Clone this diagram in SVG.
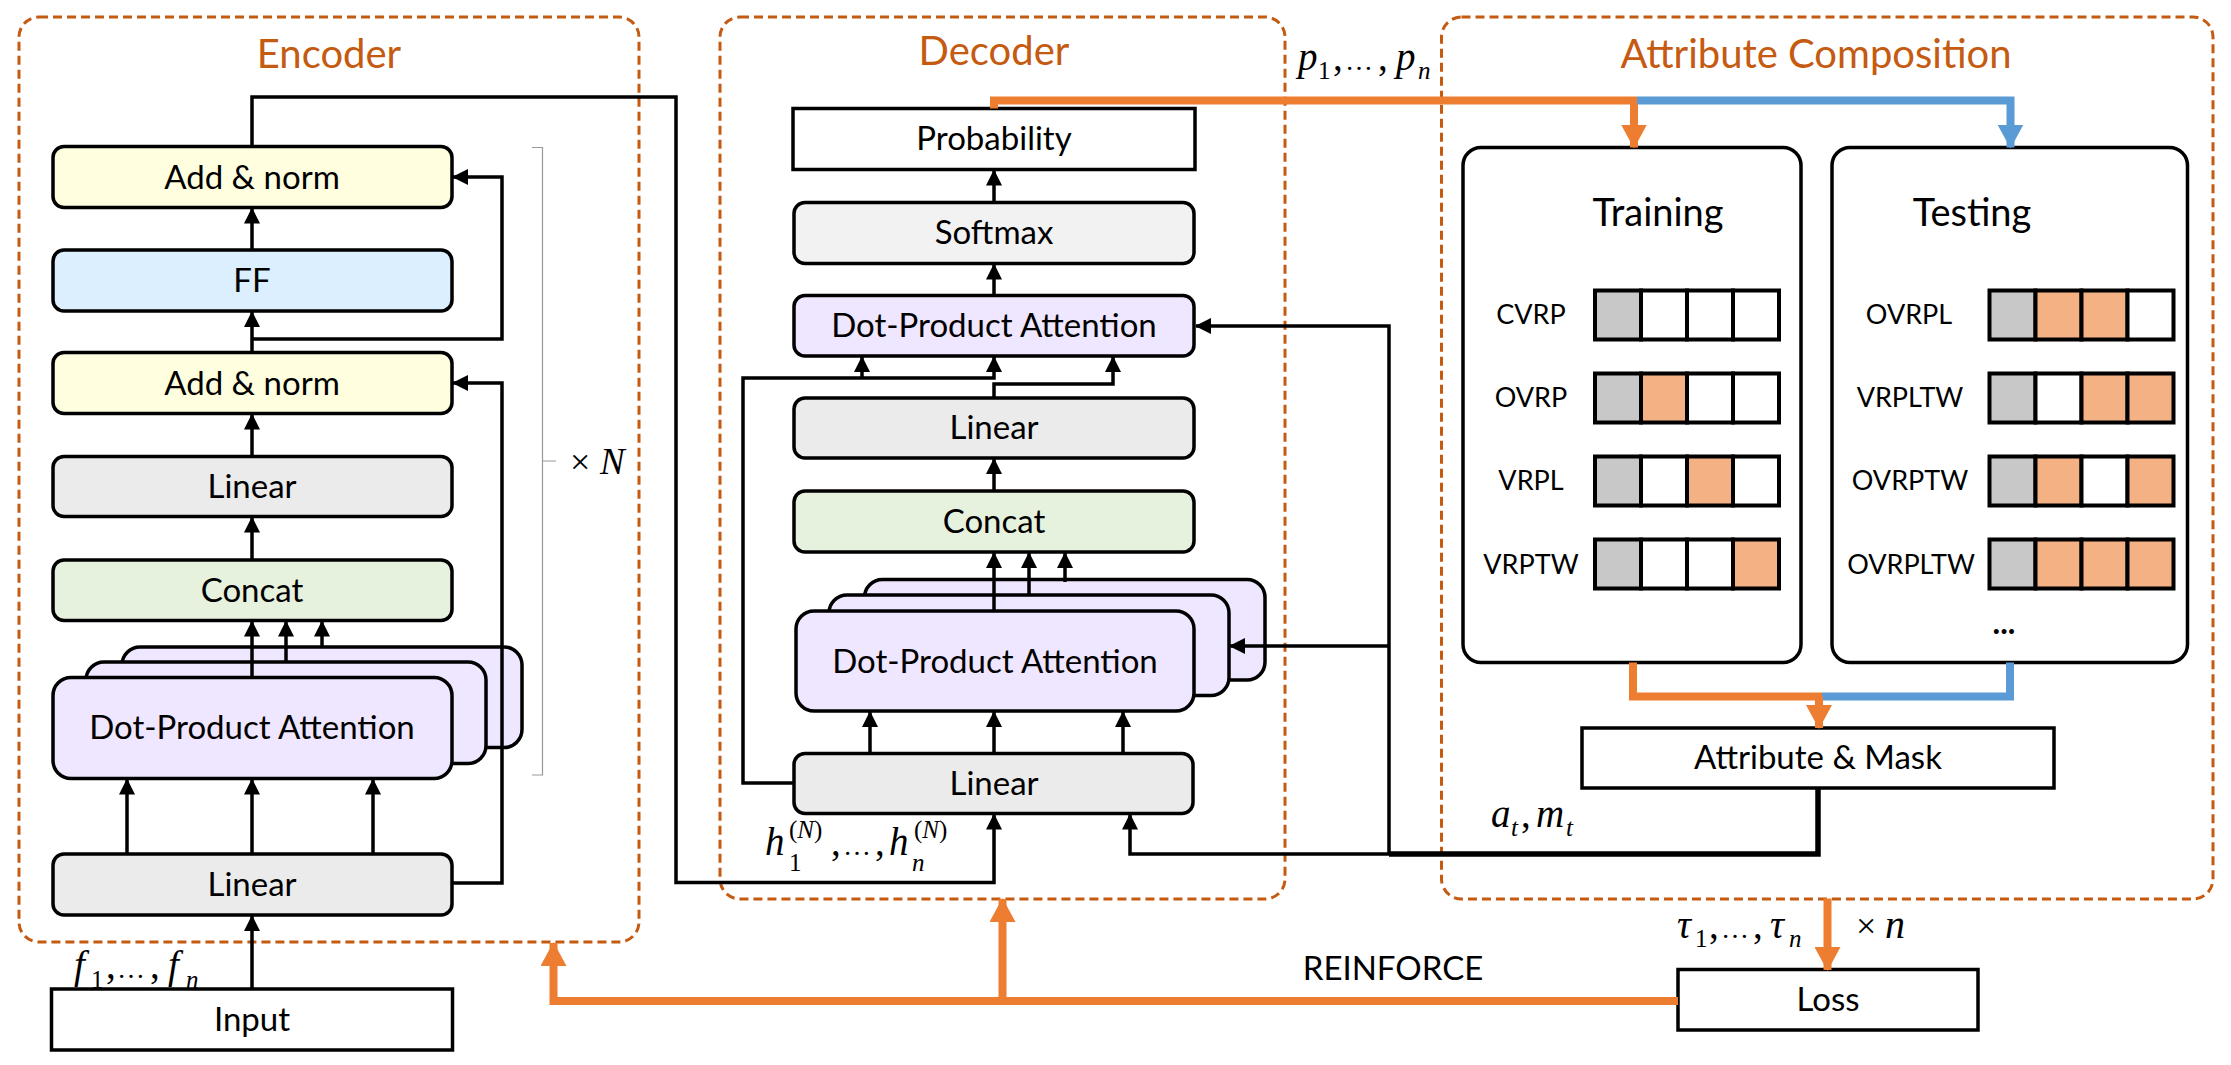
<svg xmlns="http://www.w3.org/2000/svg" width="2231" height="1065" viewBox="0 0 2231 1065">
<style>
.grp{fill:none;stroke:#C55A11;stroke-width:3;stroke-dasharray:9 5}
.ttl{font-family:Lato,"Open Sans",sans-serif;font-size:40px;fill:#C55A11;text-anchor:middle}
.box{stroke:#000;stroke-width:3.5}
.lbl{font-family:Lato,"Open Sans",sans-serif;font-size:33px;fill:#000;text-anchor:middle}
.sm{font-family:Lato,"Open Sans",sans-serif;font-size:27px;fill:#000;text-anchor:middle}
.big{font-family:Lato,"Open Sans",sans-serif;font-size:38px;fill:#000;text-anchor:middle}
.m{font-family:"Liberation Serif","Times New Roman",serif;font-style:italic;font-size:39px;fill:#000}
.u{font-family:"Liberation Serif","Times New Roman",serif;font-size:39px;fill:#000}
.ms{font-family:"Liberation Serif","Times New Roman",serif;font-style:italic;font-size:25px;fill:#000}
.us{font-family:"Liberation Serif","Times New Roman",serif;font-size:25px;fill:#000}
.el{font-family:"Liberation Serif","Times New Roman",serif;font-size:28px;fill:#000}
.yel{fill:#FFFFDF}.blu{fill:#DCEFFF}.gry{fill:#EBEBEB}.grn{fill:#E6F2DE}.pur{fill:#EFE6FF}.sgr{fill:#F2F2F2}.wht{fill:#FFFFFF}
.ln{fill:none;stroke:#000;stroke-width:3.5}
.arr{marker-end:url(#ah)}
.or{fill:none;stroke:#ED7D31;stroke-width:8}
.bl{fill:none;stroke:#5B9BD5;stroke-width:8}
.cg{fill:#C8C8C8;stroke:#000;stroke-width:4}
.co{fill:#F4B183;stroke:#000;stroke-width:4}
.cw{fill:#FFFFFF;stroke:#000;stroke-width:4}
</style>
<defs>
<marker id="ah" viewBox="0 0 16 16" refX="15" refY="8" markerWidth="16" markerHeight="16" markerUnits="userSpaceOnUse" orient="auto"><path d="M0,0 L16,8 L0,16 z" fill="#000"/></marker>
<marker id="ao" viewBox="0 0 24 26" refX="23" refY="13" markerWidth="24" markerHeight="26" markerUnits="userSpaceOnUse" orient="auto"><path d="M0,0 L24,13 L0,26 z" fill="#ED7D31"/></marker>
<marker id="ab" viewBox="0 0 24 26" refX="23" refY="13" markerWidth="24" markerHeight="26" markerUnits="userSpaceOnUse" orient="auto"><path d="M0,0 L24,13 L0,26 z" fill="#5B9BD5"/></marker>
</defs>
<rect width="2231" height="1065" fill="#fff"/>

<!-- Group frames -->
<g id="encoder-frame"><rect class="grp" x="19" y="17" width="620" height="925" rx="20"/><text class="ttl" x="329" y="68">Encoder</text></g>
<g id="decoder-frame"><rect class="grp" x="720" y="17" width="565" height="882" rx="20"/><text class="ttl" x="994" y="65">Decoder</text></g>
<g id="attr-frame"><rect class="grp" x="1441.5" y="17" width="771.5" height="882" rx="20"/><text class="ttl" x="1816" y="68">Attribute Composition</text></g>

<!-- Encoder nodes -->
<g id="enc-addnorm2"><rect class="box yel" x="53" y="146.5" width="399" height="61" rx="11"/><text class="lbl" x="252" y="189">Add &amp; norm</text></g>
<g id="enc-ff"><rect class="box blu" x="53" y="250" width="399" height="61" rx="11"/><text class="lbl" x="252" y="292">FF</text></g>
<g id="enc-addnorm1"><rect class="box yel" x="53" y="352.5" width="399" height="61" rx="11"/><text class="lbl" x="252" y="395">Add &amp; norm</text></g>
<g id="enc-linear2"><rect class="box gry" x="53" y="456.5" width="399" height="60" rx="11"/><text class="lbl" x="252" y="498">Linear</text></g>
<g id="enc-concat"><rect class="box grn" x="53" y="560" width="399" height="60.5" rx="11"/><text class="lbl" x="252" y="602">Concat</text></g>
<g id="enc-attn">
<rect class="box pur" x="122" y="647" width="400" height="100.5" rx="18"/>
<rect class="box pur" x="86" y="662" width="400" height="101.5" rx="18"/>
<rect class="box pur" x="53" y="677.5" width="399" height="101" rx="18"/>
<text class="lbl" x="252" y="739">Dot-Product Attention</text></g>
<g id="enc-linear1"><rect class="box gry" x="53" y="854" width="399" height="61" rx="11"/><text class="lbl" x="252" y="896">Linear</text></g>
<g id="enc-input"><rect class="box wht" x="51.5" y="989" width="401" height="61"/><text class="lbl" x="252" y="1031">Input</text></g>

<!-- Decoder nodes -->
<g id="dec-prob"><rect class="box wht" x="793" y="108.5" width="402" height="61"/><text class="lbl" x="994" y="150">Probability</text></g>
<g id="dec-softmax"><rect class="box sgr" x="794" y="202.5" width="400" height="61" rx="11"/><text class="lbl" x="994" y="244">Softmax</text></g>
<g id="dec-attn2"><rect class="box pur" x="794" y="295.5" width="400" height="60.5" rx="11"/><text class="lbl" x="994" y="337">Dot-Product Attention</text></g>
<g id="dec-linear2"><rect class="box gry" x="794" y="398" width="400" height="60" rx="11"/><text class="lbl" x="994" y="439">Linear</text></g>
<g id="dec-concat"><rect class="box grn" x="794" y="491" width="400" height="61" rx="11"/><text class="lbl" x="994" y="533">Concat</text></g>
<g id="dec-attn">
<rect class="box pur" x="864.5" y="579.5" width="400.5" height="100.5" rx="18"/>
<rect class="box pur" x="829" y="595" width="400" height="100.5" rx="18"/>
<rect class="box pur" x="796" y="611" width="398" height="100" rx="18"/>
<text class="lbl" x="995" y="673">Dot-Product Attention</text></g>
<g id="dec-linear1"><rect class="box gry" x="794" y="753.5" width="399" height="60" rx="11"/><text class="lbl" x="994" y="795">Linear</text></g>

<!-- Attribute composition nodes -->
<g id="training"><rect class="box wht" x="1463" y="147.5" width="338" height="515" rx="18"/><text class="big" x="1658" y="226">Training</text>
<text class="sm" x="1531" y="324">CVRP</text>
<rect class="cg" x="1595" y="290.5" width="46" height="49"/><rect class="cw" x="1641" y="290.5" width="46" height="49"/><rect class="cw" x="1687" y="290.5" width="46" height="49"/><rect class="cw" x="1733" y="290.5" width="46" height="49"/>
<text class="sm" x="1531" y="407">OVRP</text>
<rect class="cg" x="1595" y="373.5" width="46" height="49"/><rect class="co" x="1641" y="373.5" width="46" height="49"/><rect class="cw" x="1687" y="373.5" width="46" height="49"/><rect class="cw" x="1733" y="373.5" width="46" height="49"/>
<text class="sm" x="1531" y="490">VRPL</text>
<rect class="cg" x="1595" y="456.5" width="46" height="49"/><rect class="cw" x="1641" y="456.5" width="46" height="49"/><rect class="co" x="1687" y="456.5" width="46" height="49"/><rect class="cw" x="1733" y="456.5" width="46" height="49"/>
<text class="sm" x="1531" y="574">VRPTW</text>
<rect class="cg" x="1595" y="539.5" width="46" height="49"/><rect class="cw" x="1641" y="539.5" width="46" height="49"/><rect class="cw" x="1687" y="539.5" width="46" height="49"/><rect class="co" x="1733" y="539.5" width="46" height="49"/>
</g>
<g id="testing"><rect class="box wht" x="1832" y="147.5" width="355.5" height="515" rx="18"/><text class="big" x="1972" y="226">Testing</text>
<text class="sm" x="1909" y="324">OVRPL</text>
<rect class="cg" x="1989.5" y="290.5" width="46" height="49"/><rect class="co" x="2035.5" y="290.5" width="46" height="49"/><rect class="co" x="2081.5" y="290.5" width="46" height="49"/><rect class="cw" x="2127.5" y="290.5" width="46" height="49"/>
<text class="sm" x="1910" y="407">VRPLTW</text>
<rect class="cg" x="1989.5" y="373.5" width="46" height="49"/><rect class="cw" x="2035.5" y="373.5" width="46" height="49"/><rect class="co" x="2081.5" y="373.5" width="46" height="49"/><rect class="co" x="2127.5" y="373.5" width="46" height="49"/>
<text class="sm" x="1910" y="490">OVRPTW</text>
<rect class="cg" x="1989.5" y="456.5" width="46" height="49"/><rect class="co" x="2035.5" y="456.5" width="46" height="49"/><rect class="cw" x="2081.5" y="456.5" width="46" height="49"/><rect class="co" x="2127.5" y="456.5" width="46" height="49"/>
<text class="sm" x="1911" y="574">OVRPLTW</text>
<rect class="cg" x="1989.5" y="539.5" width="46" height="49"/><rect class="co" x="2035.5" y="539.5" width="46" height="49"/><rect class="co" x="2081.5" y="539.5" width="46" height="49"/><rect class="co" x="2127.5" y="539.5" width="46" height="49"/>
<text class="sm" x="2004" y="634" style="font-weight:bold;font-size:32px">...</text>
</g>
<g id="attr-mask"><rect class="box wht" x="1582" y="728" width="472" height="60"/><text class="lbl" x="1818" y="769">Attribute &amp; Mask</text></g>
<g id="loss"><rect class="box wht" x="1678" y="969.5" width="300" height="60.5"/><text class="lbl" x="1828" y="1011">Loss</text></g>

<!-- Connectors -->
<g id="connectors">
<path class="ln arr" d="M252,989 V916"/>
<path class="ln arr" d="M127,854 V779.5"/>
<path class="ln arr" d="M252,854 V779.5"/>
<path class="ln arr" d="M373,854 V779.5"/>
<path class="ln arr" d="M252,677.5 V621.5"/>
<path class="ln arr" d="M286,662 V621.5"/>
<path class="ln arr" d="M322,647 V621.5"/>
<path class="ln arr" d="M252,560 V517.5"/>
<path class="ln arr" d="M252,456.5 V414.5"/>
<path class="ln arr" d="M252,352.5 V312"/>
<path class="ln arr" d="M252,250 V208.5"/>
<path class="ln arr" d="M252,339 H502 V177 H453"/>
<path class="ln arr" d="M453,883 H502 V383 H453"/>
<path class="ln arr" d="M252,146.5 V97 H676 V882.5 H994 V814.5"/>

<path class="ln arr" d="M994,202.5 V170.5"/>
<path class="ln arr" d="M994,295.5 V264.5"/>
<path class="ln arr" d="M794,783 H743 V378 H994 V357"/>
<path class="ln arr" d="M862,378 V357"/>
<path class="ln arr" d="M994,398 V384 H1113 V357"/>
<path class="ln arr" d="M994,491 V459"/>
<path class="ln arr" d="M994,611 V553"/>
<path class="ln arr" d="M1029,595 V553"/>
<path class="ln arr" d="M1065,582 V553"/>
<path class="ln arr" d="M870,753.5 V712"/>
<path class="ln arr" d="M994,753.5 V712"/>
<path class="ln arr" d="M1123,753.5 V712"/>
<path class="ln arr" d="M1389,854 H1130 V814.5"/>
<path class="ln" d="M1389,854 H1818 V788" style="stroke-width:5.5"/>
<path class="ln arr" d="M1389,854 V326 H1196"/>
<path class="ln arr" d="M1389,646 H1230"/>

<path class="or" d="M994,108.5 V100.5 H1637"/>
<path class="or" d="M1634,100.5 V147.5" marker-end="url(#ao)"/>
<path class="bl" d="M1637,100.5 H2010.5 V147.5" marker-end="url(#ab)"/>
<path class="or" d="M1633,662.5 V696.5 H1822"/>
<path class="bl" d="M2010,662.5 V696.5 H1822"/>
<path class="or" d="M1819,696.5 V728" marker-end="url(#ao)"/>
<path class="or" d="M1827.5,898.5 V970" marker-end="url(#ao)"/>
<path class="or" d="M1678,1001 H553.5 V943" marker-end="url(#ao)"/>
<path class="or" d="M1002.5,1001 V899" marker-end="url(#ao)"/>

<path d="M532,147.5 H542.5 V775 H532 M542.5,461 H556" fill="none" stroke="#999" stroke-width="1.2"/>
</g>

<!-- Labels -->
<g id="labels">
<text class="u" x="570" y="474" style="font-size:36px">×</text><text class="m" x="600" y="474" style="font-size:37px">N</text>

<text class="m" x="74" y="978">f</text><text class="us" x="91" y="988">1</text><text class="u" x="106" y="978">,</text><text class="el" x="117" y="978">…</text><text class="u" x="150" y="978">,</text><text class="m" x="168" y="978">f</text><text class="ms" x="186" y="988">n</text>

<text class="m" x="1298" y="70">p</text><text class="us" x="1318" y="79">1</text><text class="u" x="1333" y="70">,</text><text class="el" x="1345" y="70">…</text><text class="u" x="1378" y="70">,</text><text class="m" x="1396" y="70">p</text><text class="ms" x="1418" y="79">n</text>

<text class="m" x="765" y="855">h</text><text class="us" x="789" y="871">1</text><text class="us" x="789" y="838">(<tspan font-style="italic">N</tspan>)</text><text class="u" x="831" y="855">,</text><text class="el" x="843" y="855">…</text><text class="u" x="875" y="855">,</text><text class="m" x="889" y="855">h</text><text class="ms" x="912" y="871">n</text><text class="us" x="914" y="838">(<tspan font-style="italic">N</tspan>)</text>

<text class="m" x="1491" y="827">a</text><text class="ms" x="1511" y="836">t</text><text class="u" x="1521" y="827">,</text><text class="m" x="1536" y="827">m</text><text class="ms" x="1566" y="836">t</text>

<text class="m" x="1677" y="938">τ</text><text class="us" x="1695" y="947">1</text><text class="u" x="1709" y="938">,</text><text class="el" x="1721" y="938">…</text><text class="u" x="1753" y="938">,</text><text class="m" x="1770" y="938">τ</text><text class="ms" x="1789" y="947">n</text>

<text class="u" x="1856" y="938" style="font-size:36px">×</text><text class="m" x="1885" y="938" style="font-size:40px">n</text>

<text class="lbl" x="1393" y="980">REINFORCE</text>
</g>
</svg>
